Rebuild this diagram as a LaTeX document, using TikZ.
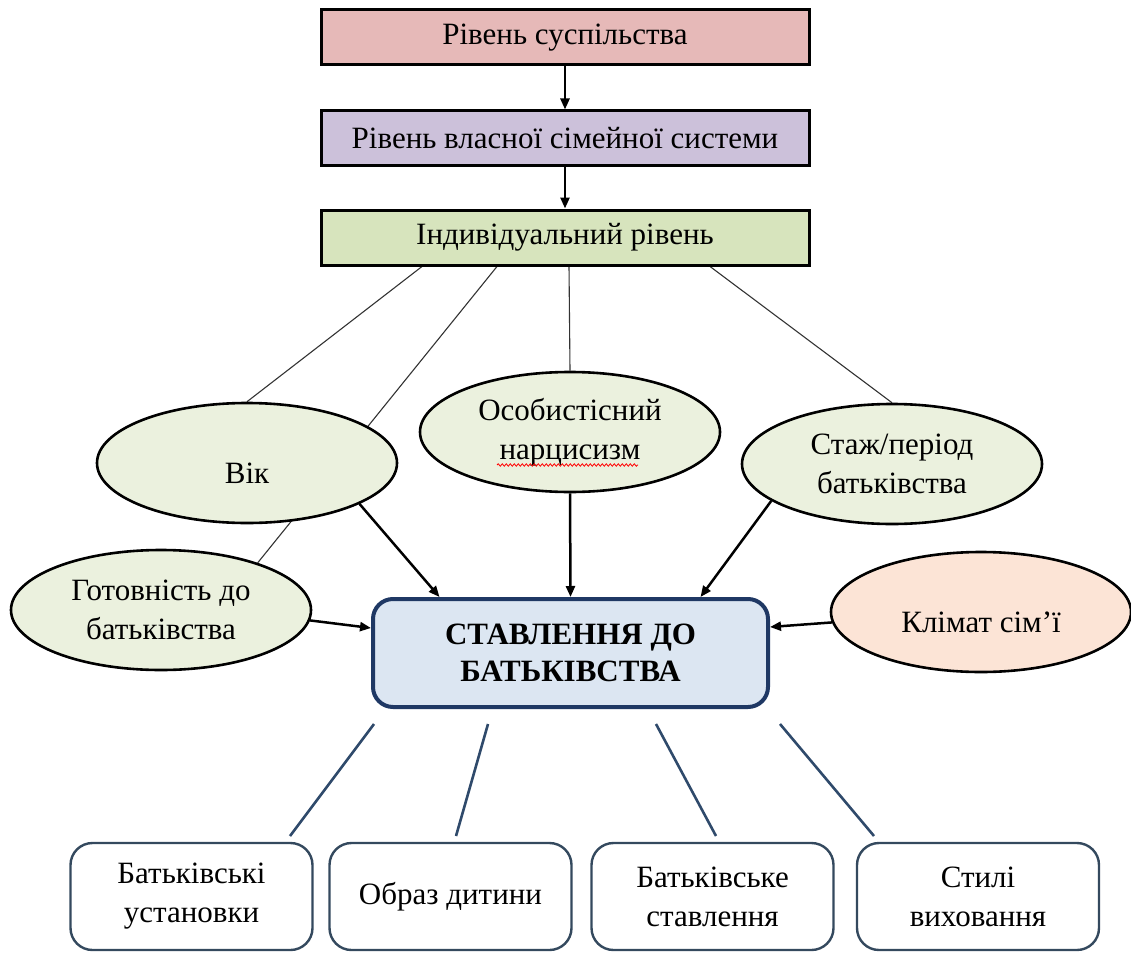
\documentclass[tikz,border=0pt]{standalone}
\usepackage{fontspec}
\setmainfont{Liberation Serif}
\usetikzlibrary{shapes.geometric,arrows.meta,backgrounds,decorations.pathmorphing}
\definecolor{pinkf}{HTML}{E6B9B8}
\definecolor{lavf}{HTML}{CCC1DA}
\definecolor{grnf}{HTML}{D7E4BD}
\definecolor{ellg}{HTML}{EBF1DE}
\definecolor{peach}{HTML}{FCE4D6}
\definecolor{ctrf}{HTML}{DCE6F2}
\definecolor{ctrd}{HTML}{1F3864}
\definecolor{botd}{HTML}{34495E}
\definecolor{bline}{HTML}{2F4A6B}
\begin{document}
\begin{tikzpicture}[x=1pt,y=-1pt,
  every node/.style={font=\fontsize{31}{39}\selectfont},
  lvlbox/.style={draw=black,line width=3pt,minimum width=488pt,minimum height=55pt,inner sep=0pt},
  ell/.style={ellipse,draw=black,line width=2.6pt,fill=ellg,minimum width=300pt,minimum height=120pt,inner sep=0pt,align=center},
  lowtext/.style={text height=40pt,text depth=0pt},
  ctr/.style={draw=ctrd,line width=4pt,fill=ctrf,rounded corners=20pt,minimum width=395pt,minimum height=108pt,align=center,font=\fontsize{31}{37}\selectfont\bfseries},
  bbox/.style={draw=botd,line width=2.4pt,fill=white,rounded corners=22pt,minimum width=242pt,minimum height=107pt,align=center},
  thin/.style={draw=black!80,line width=1.1pt},
  arr/.style={draw=black,line width=2.5pt,-{Triangle[length=11pt,width=9pt]}},
  bl/.style={draw=bline,line width=2.6pt}
]
\useasboundingbox (0,0) rectangle (1131,952);
% level boxes
\node[lvlbox,fill=pinkf] (l1) at (565,37.5) {Рівень суспільства};
\node[lvlbox,fill=lavf] (l2) at (565,138.5) {Рівень власної сімейної системи};
\node[lvlbox,fill=grnf] (l3) at (565,237.5) {Індивідуальний рівень};
\draw[arr] (l1) -- (l2);
\draw[arr] (l2) -- (l3);
% ellipses
\node[ell,lowtext] (vik) at (247,463) {Вік};
\node[ell] (osob) at (570,432) {Особистісний\\нарцисизм};
\node[ell] (stazh) at (892,464) {Стаж/період\\батьківства};
\node[ell] (got) at (161,610) {Готовність до\\батьківства};
\node[ell,fill=peach,lowtext] (klim) at (981,612) {Клімат сім’ї};
% spell-check underline
\draw[red,line width=0.8pt,decorate,decoration={snake,amplitude=1.2pt,segment length=4pt}] (497,465) -- (638,465);
% central box
\node[ctr] (ctr) at (570.5,653) {СТАВЛЕННЯ ДО\\БАТЬКІВСТВА};
% thin lines from individual level
\begin{scope}[on background layer]
\draw[thin] ([xshift=-143pt]l3.south) -- (vik.north);
\draw[thin] ([xshift=-68pt]l3.south) -- (got.26);
\draw[thin] ([xshift=4pt]l3.south) -- (osob.north);
\draw[thin] ([xshift=145pt]l3.south) -- (stazh.north);
\end{scope}
% arrows into central box
\draw[arr] (vik.-20) -- ([xshift=-131pt]ctr.north);
\draw[arr] (osob.south) -- (ctr.north);
\draw[arr] (stazh.197) -- ([xshift=130pt]ctr.north);
\draw[arr] (got.-4) -- ([yshift=25pt]ctr.west);
\draw[arr] (klim.184) -- ([yshift=26pt]ctr.east);
% bottom boxes
\node[bbox] (ba) at (191.5,896.5) {Батьківські\\установки};
\node[bbox] (bb) at (450.5,896.5) {Образ дитини};
\node[bbox] (bc) at (712.5,896.5) {Батьківське\\ставлення};
\node[bbox] (bd) at (978,896.5) {Стилі\\виховання};
% bottom connectors
\coordinate (c1) at (374,724); \coordinate (e1) at (290,836);
\coordinate (c2) at (488,724); \coordinate (e2) at (456,836);
\coordinate (c3) at (656,724); \coordinate (e3) at (716,836);
\coordinate (c4) at (780,724); \coordinate (e4) at (874,836);
\draw[bl] (c1) -- (e1);
\draw[bl] (c2) -- (e2);
\draw[bl] (c3) -- (e3);
\draw[bl] (c4) -- (e4);
\end{tikzpicture}
\end{document}
